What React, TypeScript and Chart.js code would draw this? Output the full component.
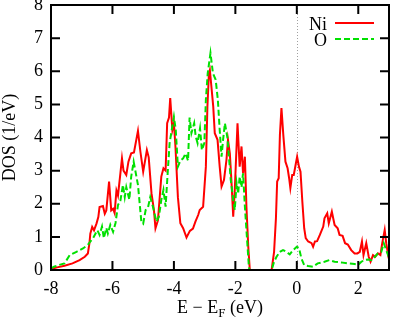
import React, { useEffect, useRef } from "react";
import { Chart, registerables } from "chart.js";

Chart.register(...registerables);

// ---- data ----
const niEnergy = [
  -8.0, -7.8, -7.56, -7.3, -7.07, -6.9, -6.8, -6.75, -6.72, -6.66, -6.6, -6.52, -6.46, -6.42, -6.31, -6.25, -6.2, -6.11,
  -6.04, -5.98, -5.93, -5.87, -5.82, -5.74, -5.69, -5.64, -5.55, -5.48, -5.39, -5.3, -5.17, -5.09, -5.0, -4.88, -4.82,
  -4.73, -4.65, -4.6, -4.52, -4.41, -4.34, -4.27, -4.22, -4.16, -4.12, -4.05, -4.0, -3.95, -3.87, -3.79, -3.7, -3.59,
  -3.48, -3.38, -3.3, -3.21, -3.16, -3.05, -2.96, -2.91, -2.86, -2.83, -2.78, -2.72, -2.67, -2.58, -2.51, -2.45, -2.37,
  -2.29, -2.24, -2.18, -2.13, -2.07, -2.02, -1.93, -1.86, -1.8, -1.75, -1.69, -1.64, -1.58, -1.53, -0.82, -0.74, -0.68,
  -0.64, -0.59, -0.55, -0.5, -0.44, -0.37, -0.3, -0.25, -0.21, -0.15, -0.1, -0.04, 0.01, 0.07, 0.12, 0.18, 0.24, 0.29,
  0.37, 0.48, 0.53, 0.59, 0.66, 0.75, 0.86, 0.9, 0.99, 1.04, 1.14, 1.23, 1.33, 1.39, 1.49, 1.57, 1.66, 1.77, 1.88, 1.97,
  2.05, 2.12, 2.17, 2.26, 2.34, 2.4, 2.48, 2.55, 2.64, 2.72, 2.78, 2.86, 2.91, 2.99,
];
const niDos = [
  0.03, 0.08, 0.13, 0.2, 0.3, 0.4, 0.5, 0.8, 1.1, 1.3, 1.2, 1.4, 1.6, 1.9, 1.93, 1.7, 1.8, 2.67,
  1.8, 1.85, 1.72, 2.4, 2.25, 2.93, 3.37, 3.0, 2.87, 3.27, 3.52, 3.55, 4.2, 3.57, 2.97, 3.62, 3.4,
  2.32, 1.81, 1.26, 1.5, 2.82, 3.07, 3.0, 4.43, 4.6, 5.19, 4.23, 4.43, 3.73, 2.2, 1.41, 1.26, 0.98,
  1.18, 1.25, 1.46, 1.66, 1.81, 1.91, 3.12, 4.93, 5.94, 6.04, 5.54, 4.93, 4.13, 3.93, 3.12, 2.52, 2.72,
  3.32, 3.93, 3.52, 2.72, 1.61, 2.4, 4.43, 3.12, 3.73, 2.92, 3.42, 1.91, 0.7, 0, 0, 0.55, 1.56,
  2.67, 2.77, 4.08, 4.89, 4.08, 3.27, 3.07, 2.77, 2.47, 2.87, 2.87, 3.17, 3.42, 3.12, 2.97, 2.06, 1.26, 0.96,
  0.86, 0.81, 0.7, 0.86, 0.87, 1.06, 1.31, 1.56, 1.71, 1.41, 1.76, 1.36, 1.26, 1.06, 1.03, 0.81, 0.77, 0.6, 0.5, 0.5,
  0.55, 0.86, 0.45, 0.81, 0.4, 0.25, 0.45, 0.4, 0.5, 0.45, 0.81, 1.21, 0.81, 0.35,
];
const oEnergy = [
  -8.0, -7.9, -7.75, -7.56, -7.39, -7.17, -6.96, -6.8, -6.72, -6.63, -6.55, -6.49, -6.42, -6.34, -6.28, -6.2, -6.15,
  -6.07, -5.98, -5.9, -5.82, -5.74, -5.66, -5.6, -5.55, -5.45, -5.39, -5.31, -5.22, -5.17, -5.06, -5.0, -4.92, -4.84,
  -4.77, -4.68, -4.57, -4.49, -4.41, -4.34, -4.27, -4.21, -4.14, -4.07, -4.0, -3.94, -3.87, -3.79, -3.7, -3.62, -3.54,
  -3.49, -3.43, -3.34, -3.29, -3.23, -3.15, -3.09, -3.01, -2.96, -2.9, -2.81, -2.73, -2.64, -2.57, -2.51, -2.45, -2.4,
  -2.34, -2.26, -2.21, -2.15, -2.07, -2.02, -1.96, -1.91, -1.86, -1.8, -1.75, -1.69, -1.64, -1.56, -1.54, -0.82, -0.74,
  -0.66, -0.55, -0.45, -0.34, -0.23, -0.12, 0.0, 0.07, 0.15, 0.24, 0.37, 0.53, 0.68, 0.9, 1.06, 1.23, 1.44, 1.66, 1.88,
  1.99, 2.1, 2.21, 2.32, 2.43, 2.54, 2.64, 2.75, 2.83, 2.91, 2.99,
];
const oDos = [
  0.05, 0.1, 0.15, 0.2, 0.45, 0.55, 0.65, 0.76, 0.86, 0.96, 1.1, 1.2, 1.06, 1.31, 0.96, 1.27, 1.1,
  1.36, 1.15, 1.42, 1.96, 2.1, 2.57, 2.2, 2.5, 2.12, 2.82, 3.27, 2.82, 2.57, 1.46, 1.4, 1.81, 1.9,
  2.2, 1.9, 1.46, 1.6, 2.12, 2.42, 1.91, 2.82, 3.83, 4.23, 4.63, 4.23, 3.12, 3.3, 3.37, 3.52, 3.3,
  4.6, 4.13, 4.43, 4.03, 3.83, 4.28, 3.62, 3.83, 5.14, 5.94, 6.55, 5.94, 5.74, 5.14, 4.23, 3.42, 3.93,
  4.43, 4.0, 3.42, 2.72, 2.12, 1.81, 2.62, 2.3, 2.82, 2.5, 2.92, 1.91, 1.21, 0.1, 0, 0, 0.25,
  0.4, 0.55, 0.6, 0.55, 0.47, 0.6, 0.7, 0.66, 0.35, 0.15, 0.12, 0.1, 0.2, 0.25, 0.3, 0.25, 0.23, 0.2, 0.18,
  0.15, 0.25, 0.3, 0.32, 0.3, 0.4, 0.5, 0.55, 0.81, 0.6, 0.4,
];
const seriesLabels = ["Ni", "O"];
const xTickValues = [-8, -6, -4, -2, 0, 2];
const yTickValues = [0, 1, 2, 3, 4, 5, 6, 7, 8];
const yTitle = "DOS (1/eV)";
const xTitleMain = "E \u2212 E";
const xTitleSub = "F";
const xTitleTail = " (eV)";

const W = 399;
const H = 319;
const FONT = '"Liberation Serif", "DejaVu Serif", serif';
const FS = 18;

const framePlugin = {
  id: "gnuplotFrame",
  beforeDatasetsDraw(chart: any) {
    const { ctx, chartArea } = chart;
    const xs = chart.scales.x;
    const px = xs.getPixelForValue(0);
    ctx.save();
    ctx.strokeStyle = "#a0a0a0";
    ctx.lineWidth = 1;
    ctx.setLineDash([1, 2]);
    ctx.beginPath();
    ctx.moveTo(Math.round(px) + 0.5, chartArea.top);
    ctx.lineTo(Math.round(px) + 0.5, chartArea.bottom);
    ctx.stroke();
    ctx.restore();
  },
  afterDraw(chart: any) {
    const { ctx, chartArea } = chart;
    const { left, right, top, bottom } = chartArea;
    const xs = chart.scales.x;
    const ys = chart.scales.y;
    const tl = 9;
    ctx.save();
    ctx.strokeStyle = "#000";
    ctx.lineWidth = 2;
    ctx.setLineDash([]);
    ctx.beginPath();
    xs.ticks.forEach((t: any) => {
      const p = xs.getPixelForValue(t.value);
      ctx.moveTo(p, bottom);
      ctx.lineTo(p, bottom - tl);
      ctx.moveTo(p, top);
      ctx.lineTo(p, top + tl);
    });
    ys.ticks.forEach((t: any) => {
      const p = ys.getPixelForValue(t.value);
      ctx.moveTo(left, p);
      ctx.lineTo(left + tl, p);
      ctx.moveTo(right, p);
      ctx.lineTo(right - tl, p);
    });
    ctx.stroke();
    ctx.strokeRect(left, top, right - left, bottom - top);

    // legend
    ctx.fillStyle = "#000";
    ctx.font = `${FS}px ${FONT}`;
    ctx.textAlign = "right";
    ctx.textBaseline = "alphabetic";
    chart.data.datasets.forEach((ds: any, i: number) => {
      const ly = 23 + i * 16;
      ctx.fillText(ds.label, 327, ly + 6.5);
      ctx.strokeStyle = ds.borderColor;
      ctx.lineWidth = ds.borderWidth;
      ctx.setLineDash(ds.borderDash || []);
      ctx.beginPath();
      ctx.moveTo(335, ly);
      ctx.lineTo(374, ly);
      ctx.stroke();
    });
    ctx.setLineDash([]);

    // y title
    ctx.save();
    ctx.translate(15, (top + bottom) / 2);
    ctx.rotate(-Math.PI / 2);
    ctx.textAlign = "center";
    ctx.fillText(yTitle, 0, 0);
    ctx.restore();

    // x title with subscript
    const subFont = `${Math.round(FS * 0.7)}px ${FONT}`;
    const mainFont = `${FS}px ${FONT}`;
    ctx.font = mainFont;
    const w1 = ctx.measureText(xTitleMain).width;
    const w3 = ctx.measureText(xTitleTail).width;
    ctx.font = subFont;
    const w2 = ctx.measureText(xTitleSub).width;
    const total = w1 + w2 + w3;
    let x0 = (left + right) / 2 - total / 2;
    const by = 313;
    ctx.textAlign = "left";
    ctx.font = mainFont;
    ctx.fillText(xTitleMain, x0, by);
    x0 += w1;
    ctx.font = subFont;
    ctx.fillText(xTitleSub, x0, by + 4);
    x0 += w2;
    ctx.font = mainFont;
    ctx.fillText(xTitleTail, x0, by);
    ctx.restore();
  },
};

export default function App() {
  const ref = useRef<HTMLCanvasElement | null>(null);
  useEffect(() => {
    document.body.style.margin = "0";
    const canvas = ref.current;
    if (!canvas) return;
    const chart = new Chart(canvas, {
      type: "line",
      data: {
        datasets: [
          {
            label: seriesLabels[0],
            data: niEnergy.map((e, i) => ({ x: e, y: niDos[i] })),
            borderColor: "#ff0000",
            borderWidth: 2,
            pointRadius: 0,
            tension: 0,
            fill: false,
            order: 1,
          },
          {
            label: seriesLabels[1],
            data: oEnergy.map((e, i) => ({ x: e, y: oDos[i] })),
            borderColor: "#00e000",
            borderWidth: 2,
            borderDash: [6, 3],
            pointRadius: 0,
            tension: 0,
            fill: false,
            order: 0,
          },
        ],
      },
      options: {
        responsive: false,
        animation: false,
        devicePixelRatio: 1,
        layout: { padding: { top: 5, right: 10, left: 0, bottom: 0 } },
        plugins: { legend: { display: false }, tooltip: { enabled: false } },
        scales: {
          x: {
            type: "linear",
            min: -8,
            max: 3,
            afterBuildTicks: (s: any) => {
              s.ticks = xTickValues.map((v) => ({ value: v }));
            },
            afterFit: (s: any) => {
              s.height = 49;
              s.paddingLeft = 0;
              s.paddingRight = 0;
            },
            grid: { display: false, drawTicks: false },
            border: { display: false },
            ticks: {
              color: "#000",
              font: { family: FONT, size: FS },
              padding: 8,
              maxRotation: 0,
              autoSkip: false,
              callback: (v: any) => String(v),
            },
          },
          y: {
            type: "linear",
            min: 0,
            max: 8,
            afterBuildTicks: (s: any) => {
              s.ticks = yTickValues.map((v) => ({ value: v }));
            },
            afterFit: (s: any) => {
              s.width = 51;
              s.paddingTop = 0;
              s.paddingBottom = 0;
            },
            grid: { display: false, drawTicks: false },
            border: { display: false },
            ticks: {
              color: "#000",
              font: { family: FONT, size: FS },
              padding: 8,
              autoSkip: false,
              callback: (v: any) => String(v),
            },
          },
        },
      },
      plugins: [framePlugin],
    } as any);
    return () => chart.destroy();
  }, []);
  return (
    <div style={{ width: W, height: H }}>
      <canvas ref={ref} width={W} height={H} style={{ display: "block" }} />
    </div>
  );
}
